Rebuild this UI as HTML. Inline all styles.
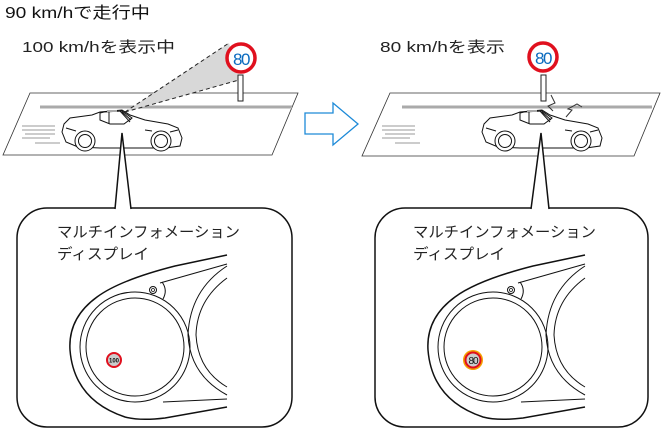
<!DOCTYPE html>
<html><head><meta charset="utf-8"><style>
html,body{margin:0;padding:0;background:#fff;}
svg{display:block;}
text{font-family:"Liberation Sans","Noto Sans CJK JP",sans-serif;}
</style></head><body>
<svg width="662" height="434" viewBox="0 0 662 434" xmlns="http://www.w3.org/2000/svg">
<defs>
<g id="car" fill="#fff" stroke="#111" stroke-width="1">
  <path d="M64,124 L70,118 L92,115 L100,112 L122,110 L130,115 L145,120 L168,124 L178,128 L182,138 L180,146 L166,148 L140,148 L100,148 L78,147 L66,142 L62,132 Z"/>
  <path d="M100,113 L104,112 L122,111 L132,118 L124,124 L110,124 L100,120 Z" fill="#fff"/>
  <line x1="109" y1="112" x2="109" y2="124"/>
  <line x1="120" y1="111" x2="130" y2="122"/>
  <line x1="122" y1="112" x2="131" y2="120"/>
  <circle cx="85" cy="141" r="10"/><circle cx="85" cy="141" r="6.5"/>
  <circle cx="161" cy="141" r="10"/><circle cx="161" cy="141" r="6.5"/>
  <path d="M66,128 L76,131 M170,132 L178,130 M145,130 L152,131" fill="none"/>
  <rect x="107" y="110" width="10" height="2" fill="#aaa" stroke="none"/>
</g>
<g id="cluster" fill="none" stroke="#111">
  <path d="M227,255 L175,266 Q120,280 97,297 Q68,318 70,350 Q74,400 125,417 Q140,421 165,418 L227,407" stroke-width="1.5"/>
  <path d="M160,283 L227,264" stroke-width="1"/>
  <path d="M162,282 Q168,290 163,299" stroke-width="1"/>
  <path d="M163,402 L227,399" stroke-width="1"/>
  <circle cx="135" cy="347" r="55" stroke-width="1"/>
  <circle cx="135" cy="347" r="49" stroke-width="1"/>
  <path d="M227,266 Q190,290 188,335 Q190,375 227,395" stroke-width="1"/>
  <path d="M227,278 Q197,300 196,335 Q198,370 227,387" stroke-width="1"/>
  <circle cx="153" cy="290" r="3.5" stroke-width="1"/>
  <circle cx="153" cy="290" r="1.5" stroke-width="0.8"/>
</g>
<g id="speed" stroke="#999" stroke-width="1">
  <line x1="22" y1="126" x2="55" y2="126"/><line x1="22" y1="130" x2="55" y2="130"/>
  <line x1="25" y1="134" x2="55" y2="134"/><line x1="22" y1="138" x2="50" y2="138"/>
  <line x1="35" y1="143" x2="60" y2="143"/>
</g>
</defs>

<!-- LEFT -->
<text x="5" y="18" font-size="16" fill="#111" textLength="145" lengthAdjust="spacingAndGlyphs">90 km/hで走行中</text>
<text x="22" y="52" font-size="15" fill="#222" textLength="153" lengthAdjust="spacingAndGlyphs">100 km/hを表示中</text>
<polygon points="30,93 298,93 272,155 3,155" fill="#fff" stroke="#333" stroke-width="0.8"/>
<line x1="40" y1="107" x2="292" y2="107" stroke="#aaa" stroke-width="3"/>
<polygon points="125,112 229,43 239,80" fill="#d8d8d8"/>
<line x1="125" y1="112" x2="229" y2="43" stroke="#222" stroke-dasharray="4,3"/>
<line x1="125" y1="112" x2="239" y2="80" stroke="#222" stroke-dasharray="4,3"/>
<rect x="238" y="75" width="5" height="26" fill="#fff" stroke="#222"/>
<circle cx="241" cy="58" r="14" fill="#fff" stroke="#e0101e" stroke-width="3.5"/>
<text x="241" y="65" font-size="17" text-anchor="middle" fill="#0b6bbf" letter-spacing="-1.5">80</text>
<use href="#speed"/>
<use href="#car"/>
<!-- callout -->
<rect x="17" y="208" width="275" height="219" rx="30" fill="#fff" stroke="#111" stroke-width="1.5"/>
<polygon points="115,210 122,133 131,210" fill="#fff"/>
<polyline points="115,209 122,133 131,209" fill="none" stroke="#111" stroke-width="1.5"/>
<text x="57" y="237" font-size="15" fill="#222" textLength="183" lengthAdjust="spacingAndGlyphs">マルチインフォメーション</text>
<text x="57" y="259" font-size="15" fill="#222" textLength="92" lengthAdjust="spacingAndGlyphs">ディスプレイ</text>
<use href="#cluster"/>
<circle cx="114" cy="360" r="7" fill="#ccc" stroke="#e0101e" stroke-width="2"/>
<text x="114" y="362.5" font-size="6" font-weight="bold" text-anchor="middle" fill="#111">100</text>

<!-- ARROW -->
<polygon points="305,113 333,113 333,103 358,124 333,145 333,134 305,134" fill="#fff" stroke="#1d8ad8" stroke-width="1.3"/>

<!-- RIGHT -->
<text x="380" y="52" font-size="15" fill="#222" textLength="125" lengthAdjust="spacingAndGlyphs">80 km/hを表示</text>
<polygon points="390,93 660,93 634,156 362,156" fill="#fff" stroke="#333" stroke-width="0.8"/>
<line x1="402" y1="107" x2="652" y2="107" stroke="#aaa" stroke-width="3"/>
<rect x="541" y="75" width="5" height="26" fill="#fff" stroke="#222"/>
<circle cx="543" cy="57" r="14" fill="#fff" stroke="#e0101e" stroke-width="3.5"/>
<text x="543" y="64" font-size="17" text-anchor="middle" fill="#0b6bbf" letter-spacing="-1.5">80</text>
<polyline points="551,95 555,103 548,106 553,111" fill="none" stroke="#333" stroke-width="1"/>
<polyline points="566,117 572,110 568,109 577,104 582,107" fill="none" stroke="#333" stroke-width="1"/>
<g transform="translate(360,0)"><use href="#speed"/></g>
<g transform="translate(420,0)"><use href="#car"/></g>
<rect x="375" y="208" width="273" height="219" rx="30" fill="#fff" stroke="#111" stroke-width="1.5"/>
<polygon points="531,210 541,133 549,210" fill="#fff"/>
<polyline points="531,209 541,133 549,209" fill="none" stroke="#111" stroke-width="1.5"/>
<text x="413" y="237" font-size="15" fill="#222" textLength="183" lengthAdjust="spacingAndGlyphs">マルチインフォメーション</text>
<text x="413" y="259" font-size="15" fill="#222" textLength="92" lengthAdjust="spacingAndGlyphs">ディスプレイ</text>
<g transform="translate(358,0)"><use href="#cluster"/></g>
<circle cx="473" cy="360" r="10" fill="#f5a000"/>
<circle cx="473" cy="360" r="7.5" fill="#ccc" stroke="#e0101e" stroke-width="2"/>
<text x="473" y="364" font-size="10" text-anchor="middle" fill="#111" letter-spacing="-1">80</text>
</svg>
</body></html>
